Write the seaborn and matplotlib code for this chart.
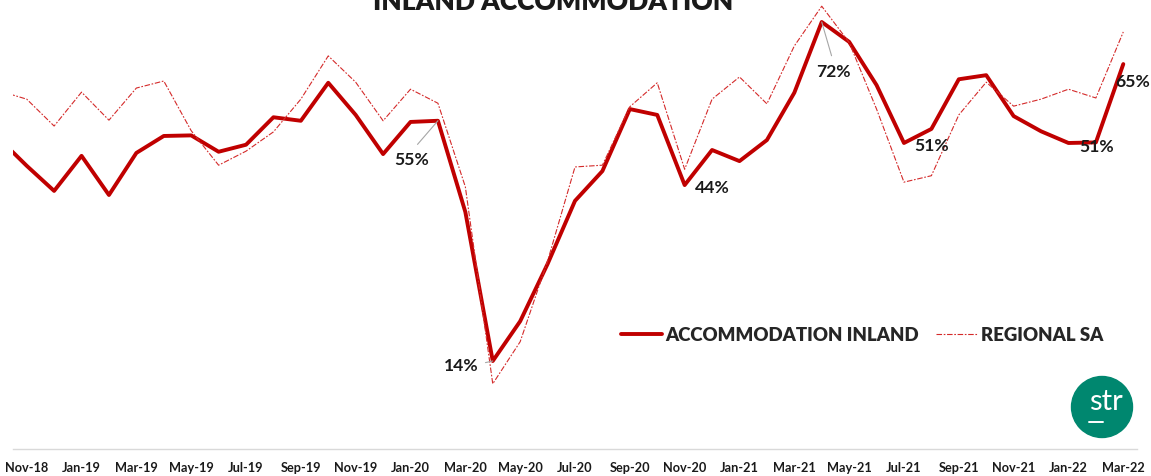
import numpy as np
import pandas as pd
import matplotlib
matplotlib.use("Agg")
import matplotlib.pyplot as plt
from matplotlib.patches import Circle
from matplotlib.lines import Line2D
import seaborn as sns

# monthly occupancy (%), Oct-18 .. Mar-22 (Oct-18 only shows as a clipped stub)
months = ["Oct-18", "Nov-18", "Dec-18",
          "Jan-19", "Feb-19", "Mar-19", "Apr-19", "May-19", "Jun-19",
          "Jul-19", "Aug-19", "Sep-19", "Oct-19", "Nov-19", "Dec-19",
          "Jan-20", "Feb-20", "Mar-20", "Apr-20", "May-20", "Jun-20",
          "Jul-20", "Aug-20", "Sep-20", "Oct-20", "Nov-20", "Dec-20",
          "Jan-21", "Feb-21", "Mar-21", "Apr-21", "May-21", "Jun-21",
          "Jul-21", "Aug-21", "Sep-21", "Oct-21", "Nov-21", "Dec-21",
          "Jan-22", "Feb-22", "Mar-22"]

inland = [52.0, 47.4, 43.1, 49.1, 42.4, 49.6, 52.5, 52.6, 49.8, 51.0,
          55.7, 55.1, 61.6, 56.1, 49.4, 54.9, 55.1, 39.5, 14.0, 20.8,
          30.6, 41.4, 46.5, 57.1, 56.1, 44.1, 50.1, 48.2, 51.8, 59.9,
          72.0, 68.6, 61.2, 51.3, 53.7, 62.2, 62.9, 55.9, 53.3, 51.3,
          51.4, 64.8]

regional = [60.2, 58.8, 54.2, 60.0, 55.2, 60.7, 61.9, 53.4, 47.5, 49.9,
            53.2, 58.8, 66.2, 61.7, 55.1, 60.5, 58.1, 43.8, 10.1, 17.3,
            31.1, 47.2, 47.5, 57.5, 61.6, 46.8, 58.8, 62.6, 58.0, 67.9,
            74.7, 68.5, 57.1, 44.6, 45.7, 56.1, 61.7, 57.6, 58.8, 60.5,
            59.0, 70.3]

# months that get a data label
labelled = ["Feb-20", "Apr-20", "Nov-20", "Apr-21", "Jul-21", "Feb-22", "Mar-22"]

df = pd.DataFrame({"month": months, "inland": inland, "regional": regional})
df["pos"] = np.arange(len(df))

sns.set_style("white")
plt.rcParams["font.family"] = ["Lato", "DejaVu Sans"]

W, H = 1151, 477
fig = plt.figure(figsize=(W / 100, H / 100), dpi=100)
ax = fig.add_axes([13 / W, 1 - 450 / H, (1137 - 13) / W, 450 / H])

red = "#C00000"
sns.lineplot(data=df, x="pos", y="inland", ax=ax, color=red, linewidth=2.8,
             label="ACCOMMODATION INLAND")
sns.lineplot(data=df, x="pos", y="regional", ax=ax, color="#D42A2A", linewidth=0.8,
             linestyle=(0, (5, 1.5, 1.5, 1.5)), label="REGIONAL SA")

# y mapping: 14% at px 362, 5.845 px per point
ax.set_ylim(14 - (450 - 362) / 5.845, 14 + 362 / 5.845)
ax.set_xlim(0.5, len(df) - 0.5)

for s in ["top", "left", "right"]:
    ax.spines[s].set_visible(False)
ax.spines["bottom"].set_color("#D9D9D9")
ax.spines["bottom"].set_linewidth(1.0)

ax.set_yticks([])
ax.set_xticks(df["pos"][1::2])
ax.set_xticklabels(df["month"][1::2], fontsize=9.2, fontweight="bold", color="#1a1a1a")
ax.set_xticks(df["pos"][1::2] - 0.5, minor=True)
ax.tick_params(axis="x", which="major", length=0, pad=8.5)
ax.tick_params(axis="x", which="minor", length=3, width=1, color="#D9D9D9", direction="out")
ax.set_xlabel("")
ax.set_ylabel("")

# data labels: (offset in points, leader line?)
offsets = {
    "Feb-20": ((-18.7, -27.4), (0.5, 1.0)),
    "Apr-20": ((-23.0, -2.9), (1.0, 0.55)),
    "Nov-20": ((20.0, -1.4), None),
    "Apr-21": ((8.6, -35.3), (0.5, 1.0)),
    "Jul-21": ((20.0, -1.4), None),
    "Feb-22": ((0.7, -2.9), None),
    "Mar-22": ((6.5, -12.2), None),
}
for m in labelled:
    row = df[df["month"] == m].iloc[0]
    off, rel = offsets[m]
    arrow = None
    if rel is not None:
        arrow = dict(arrowstyle="-", color="#A6A6A6", lw=0.8, shrinkA=3, shrinkB=0, relpos=rel)
    ax.annotate(f"{row['inland']:.0f}%", xy=(row["pos"], row["inland"]),
                xytext=off, textcoords="offset points", ha="center", va="center",
                fontsize=12.6, fontweight="bold", color="#1a1a1a", arrowprops=arrow)

ax.legend(loc="center left", bbox_to_anchor=(621 / W, 1 - 336 / H),
          bbox_transform=fig.transFigure, frameon=False, ncol=2,
          handlelength=2.2, handletextpad=0.2, columnspacing=0.9,
          borderpad=0, borderaxespad=0,
          prop=dict(weight="heavy", size=13.4))

fig.text(553 / W, 1 - 10 / H, "INLAND ACCOMMODATION", ha="center", va="baseline",
         fontsize=19, fontweight="heavy", color="#1a1a1a")

# str logo
fig.add_artist(Circle((11.02, (H - 408) / 100), 0.305, transform=fig.dpi_scale_trans,
                      color="#00876F", zorder=5))
fig.text(1106 / W, 1 - 410 / H, "str", ha="center", va="baseline", fontsize=21,
         color="white", zorder=6)
fig.add_artist(Line2D([10.89, 11.03], [(H - 423) / 100] * 2, transform=fig.dpi_scale_trans,
                      color="white", lw=1.4, zorder=6))

fig.savefig("out.png", dpi=100)
